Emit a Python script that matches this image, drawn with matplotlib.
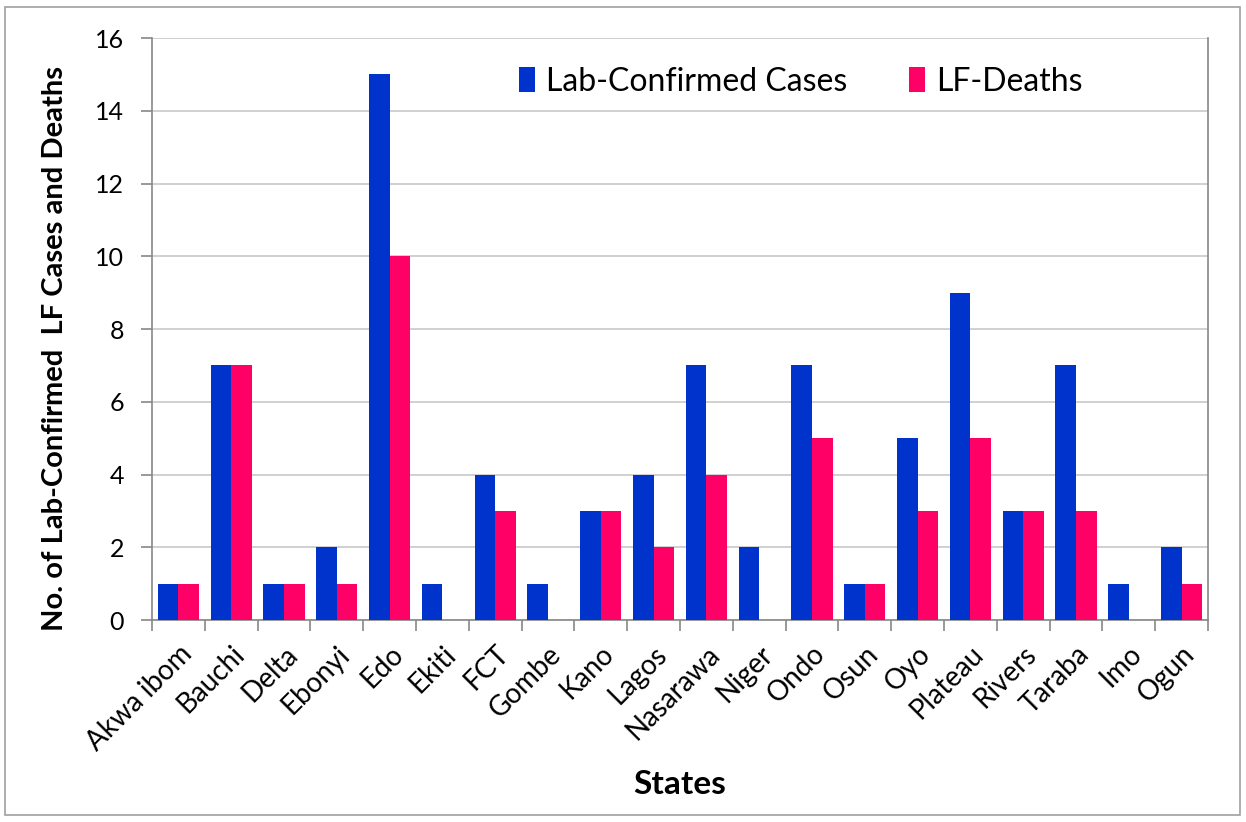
import numpy as np
import matplotlib.pyplot as plt
from matplotlib.patches import Rectangle

states = ['Akwa ibom', 'Bauchi', 'Delta', 'Ebonyi', 'Edo', 'Ekiti', 'FCT', 'Gombe',
          'Kano', 'Lagos', 'Nasarawa', 'Niger', 'Ondo', 'Osun', 'Oyo', 'Plateau',
          'Rivers', 'Taraba', 'Imo', 'Ogun']
cases = [1, 7, 1, 2, 15, 1, 4, 1, 3, 4, 7, 2, 7, 1, 5, 9, 3, 7, 1, 2]
deaths = [1, 7, 1, 1, 10, 0, 3, 0, 3, 2, 4, 0, 5, 1, 3, 5, 3, 3, 0, 1]
yticks = [0, 2, 4, 6, 8, 10, 12, 14, 16]

plt.rcParams['font.family'] = ['Lato', 'DejaVu Sans']

fig = plt.figure(figsize=(12.46, 8.22), dpi=100)
# outer frame
fig.patches.append(Rectangle((0.004, 0.008), 0.991, 0.984, transform=fig.transFigure,
                             fill=False, edgecolor='#A0A0A0', linewidth=1.2))
ax = fig.add_axes([152 / 1246, 1 - 620 / 822, (1208 - 152) / 1246, (620 - 38) / 822])

x = np.arange(len(states))
w = 0.39
blue = '#0033CC'
pink = '#FF0066'
ax.bar(x - w / 2, cases, w, color=blue, label='Lab-Confirmed Cases', zorder=3)
ax.bar(x + w / 2, deaths, w, color=pink, label='LF-Deaths', zorder=3)

ax.set_xlim(-0.5, len(states) - 0.5)
ax.set_ylim(0, 16)
ax.set_yticks(yticks)
ax.set_yticklabels([str(v) for v in yticks], fontsize=18)
ax.yaxis.grid(True, color='#C8C8C8', linewidth=1.2, zorder=0)
ax.set_axisbelow(True)

ax.set_xticks(np.arange(len(states) + 1) - 0.5)
ax.set_xticklabels([])
ax.set_xticks(x, minor=True)
ax.set_xticklabels(states, minor=True, rotation=45, ha='right', va='top',
                   rotation_mode='anchor', fontsize=20)
ax.tick_params(axis='x', which='minor', length=0, pad=15)
ax.tick_params(axis='x', which='major', length=8, color='#888888', width=1.2)
ax.tick_params(axis='y', length=8, color='#888888', width=1.2, pad=12)

for s in ['left', 'bottom', 'right']:
    ax.spines[s].set_color('#888888')
    ax.spines[s].set_linewidth(1.2)
ax.spines['top'].set_visible(False)

ax.set_ylabel('No. of Lab-Confirmed  LF Cases and Deaths', fontsize=21,
              fontweight='bold', va='center')
ax.yaxis.set_label_coords(-0.092, 0.467)
ax.set_xlabel('States', fontsize=24, fontweight='bold', va='center')
ax.xaxis.set_label_coords(0.5, -0.2835)

ax.legend(loc='upper left', bbox_to_anchor=(0.32, 1.0), ncol=2, frameon=False,
          fontsize=23, handlelength=0.5, handleheight=0.8, handletextpad=0.35,
          columnspacing=1.95)

fig.savefig('out.png', dpi=100)
